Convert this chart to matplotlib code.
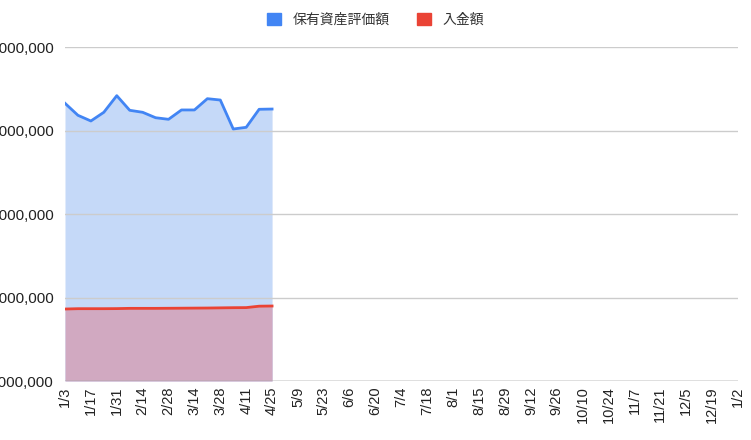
import matplotlib
matplotlib.use("Agg")
import matplotlib.pyplot as plt
from matplotlib.ticker import FuncFormatter
import matplotlib.patches as mp
import datetime as dt

plt.rcParams['font.family'] = ['Liberation Sans', 'Noto Sans CJK JP', 'DejaVu Sans']

start = dt.date(2022, 1, 3)
n_weeks = 53
tick_labels = [f"{(start+dt.timedelta(days=7*i)).month}/{(start+dt.timedelta(days=7*i)).day}" for i in range(0, n_weeks, 2)]
assets = [4326000, 4182000, 4114000, 4218000, 4417000, 4242000, 4218000, 4153000, 4134000,
          4246000, 4246000, 4381000, 4365000, 4018000, 4038000, 4254000, 4257000]
deposits = [1862000, 1866000, 1866000, 1866000, 1867000, 1870000, 1870000, 1870000, 1871000,
            1872000, 1873000, 1874000, 1876000, 1878000, 1879000, 1896000, 1898000]
x = list(range(len(assets)))

fig = plt.figure(figsize=(7.51, 4.40), dpi=100)
ax = fig.add_axes([65/751, 1-381/440, 673/751, (381-47)/440])
ax.fill_between(x, 1000000, assets, color='#c5d9f8', lw=0)
ax.fill_between(x, 1000000, deposits, color='#d1a9c1', lw=0)
ax.plot(x, assets, color='#4285f4', lw=2, label='保有資産評価額')
ax.plot(x, deposits, color='#ea4335', lw=2, label='入金額')
ax.set_xlim(0, n_weeks - 1)
ax.set_ylim(1000000, 5000000)
ax.set_yticks([1000000, 2000000, 3000000, 4000000, 5000000])
ax.yaxis.set_major_formatter(FuncFormatter(lambda v, p: f"{int(v):,}"))
ax.set_xticks(range(0, n_weeks, 2))
ax.set_xticklabels(tick_labels, rotation=90, fontsize=10.5)
ax.tick_params(axis='y', labelsize=11, length=0, pad=8, labelcolor='#222222')
ax.tick_params(axis='x', length=0, pad=4, labelcolor='#222222')
ax.grid(axis='y', color='#cccccc', lw=1)
for s in ax.spines.values():
    s.set_visible(False)
ax.axhline(1000000, color='#888888', lw=1)
l = ['保有資産評価額', '入金額']
fig.legend([mp.Patch(color='#4285f4'), mp.Patch(color='#ea4335')], l, loc='upper center',
           bbox_to_anchor=(0.5, 1.0), ncol=2, frameon=False, fontsize=10, handlelength=1, handleheight=1,
           prop={'family': ['Noto Sans CJK JP'], 'size': 10}, labelcolor='#333333')
fig.savefig('out.png', dpi=100)
